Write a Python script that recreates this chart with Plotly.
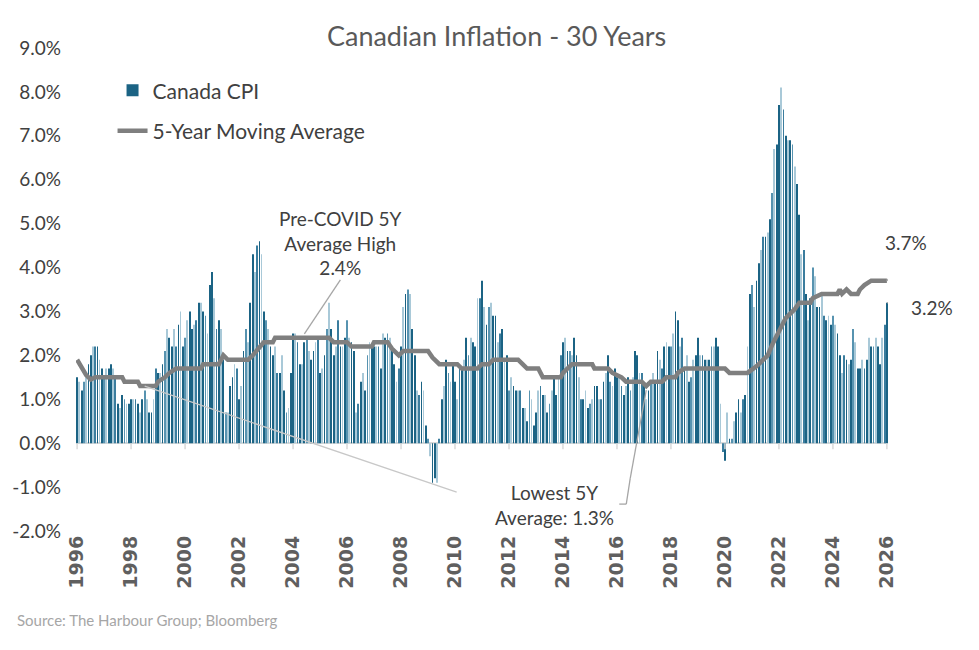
import pandas as pd
import plotly.graph_objects as go

# Canada CPI, year-over-year %, monthly from May 1996
cpi = [
    1.5, 1.4, 1.2, 1.4, 1.5, 1.8, 2.0, 2.2,                      # 1996 (May-Dec)
    2.2, 2.2, 1.9, 1.7, 1.5, 1.7, 1.7, 1.8, 1.7, 1.5, 0.9, 0.8,  # 1997
    1.1, 1.0, 0.9, 0.9, 1.0, 1.0, 1.0, 0.9, 0.7, 1.0, 1.2, 1.0,  # 1998
    0.7, 0.7, 1.0, 1.7, 1.6, 1.6, 1.8, 2.1, 2.6, 2.4, 2.2, 2.6,  # 1999
    2.2, 2.7, 3.0, 2.2, 2.4, 2.8, 3.0, 2.6, 2.7, 2.8, 3.2, 3.2,  # 2000
    3.0, 2.9, 2.5, 3.6, 3.9, 3.3, 2.6, 2.8, 2.6, 1.9, 0.7, 0.7,  # 2001
    1.3, 1.5, 1.8, 1.7, 1.0, 1.3, 2.1, 2.6, 2.3, 3.2, 4.3, 3.9,  # 2002
    4.5, 4.6, 4.3, 3.0, 2.8, 2.6, 2.2, 2.0, 2.2, 1.6, 1.6, 2.0,  # 2003
    1.2, 0.7, 0.8, 1.6, 2.5, 2.5, 2.3, 1.8, 1.8, 2.3, 2.4, 2.1,  # 2004
    1.9, 2.1, 2.3, 2.4, 1.6, 1.7, 2.0, 2.6, 3.2, 2.6, 2.0, 2.2,  # 2005
    2.8, 2.2, 2.2, 2.4, 2.8, 2.4, 2.3, 2.1, 0.7, 0.9, 1.4, 1.6,  # 2006
    1.2, 2.0, 2.3, 2.2, 2.2, 2.2, 2.2, 1.7, 2.5, 2.4, 2.5, 2.4,  # 2007
    2.2, 1.8, 1.4, 1.7, 2.2, 3.1, 3.4, 3.5, 3.4, 2.6, 2.0, 1.2,  # 2008
    1.1, 1.4, 1.2, 0.4, 0.1, -0.3, -0.9, -0.8, -0.9, 0.1, 1.0, 1.3,  # 2009
    1.9, 1.6, 1.4, 1.8, 1.4, 1.0, 1.8, 1.7, 1.9, 2.4, 2.0, 2.4,  # 2010
    2.3, 2.2, 3.3, 3.3, 3.7, 3.1, 2.7, 3.1, 3.2, 2.9, 2.9, 2.3,  # 2011
    2.5, 2.6, 1.9, 2.0, 1.2, 1.5, 1.3, 1.2, 1.2, 1.2, 0.8, 0.8,  # 2012
    0.5, 1.2, 1.0, 0.4, 0.7, 1.2, 1.3, 1.1, 1.1, 0.7, 0.9, 1.2,  # 2013
    1.5, 1.1, 1.5, 2.0, 2.3, 2.4, 2.1, 2.1, 2.0, 2.4, 2.0, 1.5,  # 2014
    1.0, 1.0, 1.2, 0.8, 0.9, 1.0, 1.3, 1.3, 1.0, 1.0, 1.4, 1.6,  # 2015
    2.0, 1.4, 1.3, 1.7, 1.5, 1.5, 1.3, 1.1, 1.3, 1.5, 1.2, 1.5,  # 2016
    2.1, 2.0, 1.6, 1.6, 1.3, 1.0, 1.2, 1.4, 1.6, 1.4, 2.1, 1.9,  # 2017
    1.7, 2.2, 2.3, 2.2, 2.2, 2.5, 3.0, 2.8, 2.2, 2.4, 1.7, 2.0,  # 2018
    1.4, 1.5, 1.9, 2.0, 2.4, 2.0, 2.0, 1.9, 1.9, 1.9, 2.2, 2.2,  # 2019
    2.4, 2.2, 0.9, -0.2, -0.4, 0.7, 0.1, 0.1, 0.5, 0.7, 1.0, 0.7,  # 2020
    1.0, 1.1, 2.2, 3.4, 3.6, 3.1, 3.7, 4.1, 4.4, 4.7, 4.7, 4.8,  # 2021
    5.1, 5.7, 6.7, 6.8, 7.7, 8.1, 7.6, 7.0, 6.9, 6.9, 6.8, 6.3,  # 2022
    5.9, 5.2, 4.3, 4.4, 3.4, 2.8, 3.3, 4.0, 3.8, 3.1, 3.1, 3.4,  # 2023
    2.9, 2.8, 2.9, 2.7, 2.9, 2.7, 2.5, 2.0, 1.6, 2.0, 1.9, 1.8,  # 2024
    1.9, 2.6, 2.3, 1.7, 1.7, 1.9, 1.7, 1.9, 2.4, 2.2, 2.2, 2.4,  # 2025
    2.2, 1.8, 2.4, 2.7, 3.2,                                     # 2026 (Jan-May)
]

# 5-year moving average, read as (month index from May 1996, value)
ma_month = [0, 2, 4, 6, 8, 20, 21, 27, 28, 35, 36, 39, 41, 44, 55, 56, 63, 64, 65, 67,
            76, 78, 81, 83, 87, 88, 112, 114, 120, 122, 131, 132, 138, 140, 143, 145,
            156, 158, 161, 169, 171, 178, 180, 183, 185, 196, 198, 200, 205, 207, 215,
            216, 220, 229, 230, 236, 238, 242, 244, 251, 253, 255, 260, 262, 266, 267,
            270, 288, 290, 298, 302, 307, 309, 312, 315, 318, 319, 321, 326, 327, 331,
            338, 339, 340, 342, 344, 347, 348, 350, 353, 360]
ma_value = [1.9, 1.7, 1.55, 1.45, 1.5, 1.5, 1.4, 1.4, 1.3, 1.3, 1.4, 1.5, 1.6, 1.7, 1.7, 1.8, 1.8, 1.9, 2.0, 1.9,
            1.9, 2.0, 2.2, 2.3, 2.3, 2.4, 2.4, 2.3, 2.3, 2.2, 2.2, 2.3, 2.3, 2.15, 2.0, 2.1,
            2.1, 1.95, 1.8, 1.8, 1.7, 1.7, 1.8, 1.8, 1.9, 1.9, 1.8, 1.7, 1.7, 1.5, 1.5,
            1.6, 1.8, 1.8, 1.7, 1.7, 1.6, 1.5, 1.4, 1.4, 1.3, 1.4, 1.4, 1.5, 1.5, 1.6,
            1.7, 1.7, 1.6, 1.6, 1.75, 2.0, 2.25, 2.55, 2.85, 3.0, 3.05, 3.2, 3.2, 3.3, 3.4,
            3.4, 3.5, 3.4, 3.5, 3.4, 3.4, 3.5, 3.6, 3.7, 3.7]

y_ticks = [-2, -1, 0, 1, 2, 3, 4, 5, 6, 7, 8, 9]

dates = pd.date_range("1996-05-01", periods=len(cpi), freq="MS")
tick_dates = dates[::24]
tick_text = [str(d.year) for d in tick_dates]
ma_dates = dates[ma_month]
y_text = [f"{v:.1f}%" for v in y_ticks]  # plain hyphen, like the original

# bars get a mix of dark / light teal like the original gradient fill
palette = ["#1b6384", "#a9c9d8", "#1b6384", "#5793b0", "#a9c9d8", "#1b6384", "#1b6384", "#a9c9d8", "#3b7d9e"]
bar_colors = [palette[i % len(palette)] for i in range(len(cpi))]

TEXT = "#404040"
FONT = "Lato"

fig = go.Figure()
fig.add_trace(go.Bar(
    x=dates, y=cpi, name="Canada CPI", legendgroup="cpi",
    marker=dict(color=bar_colors, line_width=0),
))
fig.add_trace(go.Scatter(
    x=ma_dates, y=ma_value, mode="lines", name="5-Year Moving Average",
    legendgroup="ma", line=dict(color="#7f7f7f", width=4.5),
))

# little tick marks hanging off the zero line
shapes = []
for d in tick_dates:
    shapes.append(dict(type="line", xref="x", yref="y", x0=d, x1=d,
                       ysizemode="pixel", yanchor=0, y0=0, y1=-6,
                       line=dict(color="#d9d9d9", width=1.5)))

# leader lines for the call-outs
def leader(anchor_x, anchor_y, x0, y0, x1, y1, color="#a6a6a6"):
    return dict(type="line", xref="x", yref="y",
                xsizemode="pixel", xanchor=anchor_x, x0=x0, x1=x1,
                ysizemode="pixel", yanchor=anchor_y, y0=y0, y1=y1,
                line=dict(color=color, width=1.3))

shapes.append(leader(dates[101], 2.4, 0, 4, 36, 58))
shapes.append(leader(dates[253], 1.3, 0, -4, -16, -92))
shapes.append(leader(dates[253], 1.3, -16, -92, -20, -118))
shapes.append(leader(dates[253], 1.3, -20, -118, -27, -118))
shapes.append(leader(dates[30], 1.3, 0, 0, 312, -106, color="#c8c8c8"))
shapes.append(leader(dates[-1], ma_value[-1], 0, 0, 21, 22))
shapes.append(leader(dates[-1], cpi[-1], 0, 0, 11, -2))
shapes.append(leader(dates[-1], cpi[-1], 11, -2, 23, -6))

annotations = [
    dict(x=dates[117], y=4.55, xref="x", yref="y", showarrow=False,
         text="Pre-COVID 5Y<br>Average High<br>2.4%", align="center",
         font=dict(family=FONT, size=19, color=TEXT)),
    dict(x=dates[212], y=-1.41, xref="x", yref="y", showarrow=False,
         text="Lowest 5Y<br>Average: 1.3%", align="center",
         font=dict(family=FONT, size=19, color=TEXT)),
    dict(x=dates[-1], y=4.56, xref="x", yref="y", showarrow=False,
         text="3.7%", xanchor="left", xshift=-4,
         font=dict(family=FONT, size=19, color=TEXT)),
    dict(x=dates[-1], y=3.08, xref="x", yref="y", showarrow=False,
         text="3.2%", xanchor="left", xshift=22,
         font=dict(family=FONT, size=19, color=TEXT)),
    dict(x=-0.075, y=-0.207, xref="paper", yref="paper", showarrow=False,
         text="Source: The Harbour Group; Bloomberg", xanchor="left",
         font=dict(family=FONT, size=15, color="#a6a6a6")),
]

# the page body adds 8px on the top and left, so the figure is 8px smaller
fig.update_layout(
    width=971, height=642,
    margin=dict(l=68, r=91, t=40, b=119, autoexpand=False),
    paper_bgcolor="white", plot_bgcolor="white",
    bargap=0.6,
    title=dict(text="Canadian Inflation - 30 Years", x=0.518, xref="paper",
               xanchor="center", y=0.955, yanchor="middle",
               font=dict(family=FONT, size=27, color="#595959")),
    legend=dict(x=0.045, y=0.954, xanchor="left", yanchor="top",
                bgcolor="rgba(0,0,0,0)", traceorder="grouped", tracegroupgap=10,
                font=dict(family=FONT, size=21, color=TEXT)),
    shapes=shapes,
    annotations=annotations,
)
fig.update_xaxes(
    type="date", automargin=False,
    range=[dates[0] - pd.Timedelta(days=15), dates[-1] + pd.Timedelta(days=15)],
    tickvals=tick_dates, ticktext=tick_text, tickangle=-90,
    tickfont=dict(family="DejaVu Sans", size=19, color="#5f5f5f", weight="bold"),
    showgrid=False, showline=False, ticks="", zeroline=False,
)
fig.update_yaxes(
    range=[-2, 9], tickvals=y_ticks, ticktext=y_text, automargin=False,
    tickfont=dict(family=FONT, size=19, color=TEXT),
    showgrid=False, showline=False, ticks="", ticklabelstandoff=14,
    zeroline=True, zerolinecolor="#d9d9d9", zerolinewidth=2,
)

fig.write_html("out.html")
